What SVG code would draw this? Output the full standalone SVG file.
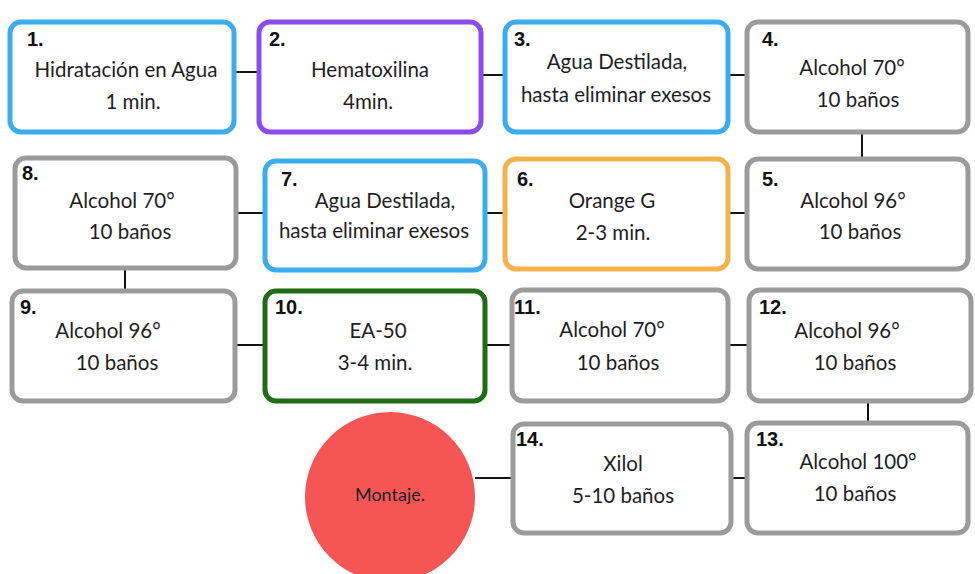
<svg xmlns="http://www.w3.org/2000/svg" width="975" height="574" viewBox="0 0 975 574">
<style>
.box{fill:#fff;stroke-width:5;}
.blue{stroke:#3badee;}
.purple{stroke:#8b4bef;}
.orange{stroke:#f6b24a;}
.green{stroke:#1f6b16;}
.gray{stroke:#9b9b9b;}
.t{font-family:Lato,"Open Sans",sans-serif;font-size:20.5px;fill:#1e1e1e;text-anchor:middle;}
.n{font-family:"Liberation Sans",Arial,sans-serif;font-size:20px;font-weight:bold;fill:#111;}
.c{stroke:#111;stroke-width:2;fill:none;}
</style>
<rect width="975" height="574" fill="#fff"/>
<g id="connectors">
<line class="c" x1="236" y1="72" x2="257" y2="72"/>
<line class="c" x1="483" y1="75" x2="503" y2="75"/>
<line class="c" x1="730" y1="75" x2="745" y2="75"/>
<line class="c" x1="862" y1="133" x2="862" y2="157"/>
<line class="c" x1="730" y1="213" x2="745" y2="213"/>
<line class="c" x1="487" y1="213" x2="503" y2="213"/>
<line class="c" x1="238" y1="213" x2="263" y2="213"/>
<line class="c" x1="125" y1="268" x2="125" y2="290"/>
<line class="c" x1="237" y1="345" x2="263" y2="345"/>
<line class="c" x1="487" y1="345" x2="510" y2="345"/>
<line class="c" x1="730" y1="345" x2="747" y2="345"/>
<line class="c" x1="868" y1="403" x2="868" y2="422"/>
<line class="c" x1="733" y1="478" x2="745" y2="478"/>
<line class="c" x1="475" y1="478" x2="511" y2="478"/>
</g>
<g id="n1"><rect class="box blue" x="10" y="22" width="224" height="110" rx="11"/><text class="n" x="27" y="46">1.</text><text class="t" x="126" y="77">Hidratación en Agua</text><text class="t" x="133" y="109">1 min.</text></g>
<g id="n2"><rect class="box purple" x="259" y="22" width="222" height="110" rx="11"/><text class="n" x="269" y="46">2.</text><text class="t" x="370" y="77">Hematoxilina</text><text class="t" x="368" y="109">4min.</text></g>
<g id="n3"><rect class="box blue" x="505" y="22" width="223" height="110" rx="11"/><text class="n" x="514" y="46">3.</text><text class="t" x="617" y="69">Agua Destilada,</text><text class="t" x="616" y="102">hasta eliminar exesos</text></g>
<g id="n4"><rect class="box gray" x="747" y="22" width="221" height="110" rx="11"/><text class="n" x="762" y="46">4.</text><text class="t" x="852" y="75">Alcohol 70°</text><text class="t" x="858" y="107">10 baños</text></g>
<g id="n5"><rect class="box gray" x="747" y="159" width="221" height="110" rx="11"/><text class="n" x="762" y="186">5.</text><text class="t" x="853" y="208">Alcohol 96°</text><text class="t" x="860" y="239">10 baños</text></g>
<g id="n6"><rect class="box orange" x="505" y="159" width="223" height="110" rx="11"/><text class="n" x="517" y="186">6.</text><text class="t" x="612" y="208">Orange G</text><text class="t" x="613" y="240">2-3 min.</text></g>
<g id="n7"><rect class="box blue" x="265" y="161" width="220" height="109" rx="11"/><text class="n" x="281" y="186">7.</text><text class="t" x="385" y="208">Agua Destilada,</text><text class="t" x="374" y="238">hasta eliminar exesos</text></g>
<g id="n8"><rect class="box gray" x="15" y="158" width="221" height="110" rx="11"/><text class="n" x="22" y="180">8.</text><text class="t" x="122" y="208">Alcohol 70°</text><text class="t" x="130" y="239">10 baños</text></g>
<g id="n9"><rect class="box gray" x="12" y="291" width="223" height="110" rx="11"/><text class="n" x="20" y="314">9.</text><text class="t" x="108" y="338">Alcohol 96°</text><text class="t" x="117" y="370">10 baños</text></g>
<g id="n10"><rect class="box green" x="265" y="291" width="220" height="110" rx="11"/><text class="n" x="275" y="314">10.</text><text class="t" x="378" y="338">EA-50</text><text class="t" x="375" y="370">3-4 min.</text></g>
<g id="n11"><rect class="box gray" x="512" y="290" width="216" height="111" rx="11"/><text class="n" x="514" y="314">11.</text><text class="t" x="612" y="337">Alcohol 70°</text><text class="t" x="618" y="370">10 baños</text></g>
<g id="n12"><rect class="box gray" x="749" y="290" width="222" height="111" rx="11"/><text class="n" x="759" y="314">12.</text><text class="t" x="847" y="338">Alcohol 96°</text><text class="t" x="855" y="370">10 baños</text></g>
<g id="n13"><rect class="box gray" x="747" y="423" width="221" height="110" rx="11"/><text class="n" x="756" y="446">13.</text><text class="t" x="858" y="469">Alcohol 100°</text><text class="t" x="855" y="501">10 baños</text></g>
<g id="n14"><rect class="box gray" x="513" y="424" width="218" height="109" rx="11"/><text class="n" x="516" y="446">14.</text><text class="t" x="623" y="471">Xilol</text><text class="t" x="623" y="503">5-10 baños</text></g>
<g id="montaje"><circle cx="390" cy="497" r="85" fill="#f65556"/><text class="t" x="390" y="501" style="font-size:18px">Montaje.</text></g>
</svg>
